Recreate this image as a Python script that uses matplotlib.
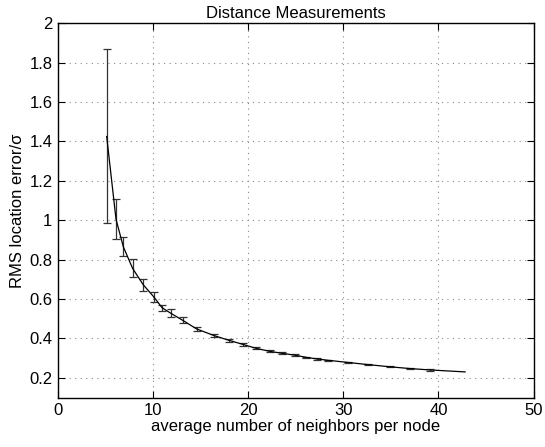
import matplotlib
matplotlib.use("Agg")
import matplotlib.pyplot as plt
import numpy as np

# data
x = [5.12, 6.1, 6.87, 7.85, 8.97, 10.09, 10.94, 11.85, 13.11, 14.58, 16.44, 18.0,
     19.5, 20.8, 22.3, 23.5, 24.9, 26.1, 27.2, 28.4, 30.5, 32.6, 34.9, 37.0, 39.1, 42.8]
y = [1.425, 1.005, 0.865, 0.755, 0.672, 0.61, 0.556, 0.528, 0.492, 0.448, 0.414, 0.39,
     0.369, 0.35, 0.334, 0.325, 0.315, 0.304, 0.296, 0.289, 0.278, 0.267, 0.256, 0.247, 0.24, 0.230]
err_lo = [0.44, 0.10, 0.046, 0.045, 0.029, 0.025, 0.015, 0.021, 0.016, 0.009, 0.007, 0.006,
          0.006, 0.005, 0.005, 0.004, 0.004, 0.004, 0.004, 0.003, 0.003, 0.003, 0.003, 0.003, 0.003, 0.0]
err_hi = [0.443, 0.104, 0.048, 0.048, 0.030, 0.026, 0.016, 0.022, 0.016, 0.009, 0.007, 0.006,
          0.006, 0.005, 0.005, 0.004, 0.004, 0.004, 0.004, 0.003, 0.003, 0.003, 0.003, 0.003, 0.003, 0.0]

xticks = [0, 10, 20, 30, 40, 50]
yticks = [0.2, 0.4, 0.6, 0.8, 1.0, 1.2, 1.4, 1.6, 1.8, 2.0]
ytick_labels = ["0.2", "0.4", "0.6", "0.8", "1", "1.2", "1.4", "1.6", "1.8", "2"]

plt.rcParams['font.family'] = ['Liberation Sans', 'DejaVu Sans']

fig = plt.figure(figsize=(5.45, 4.47), dpi=100)
ax = fig.add_axes([0.1064, 0.1107, 0.979 - 0.1064, 0.948 - 0.1107])

ax.plot(x, y, color='black', lw=0.9, zorder=3)
ax.errorbar(x[:-1], y[:-1], yerr=[err_lo[:-1], err_hi[:-1]], fmt='none',
            ecolor='#333333', elinewidth=0.9, capsize=2.6, capthick=0.9, zorder=2)

ax.set_xlim(0, 50)
ax.set_ylim(0.1, 2.0)
ax.set_xticks(xticks)
ax.set_yticks(yticks)
ax.set_yticklabels(ytick_labels)
ax.grid(True, linestyle=(0, (1, 4)), color='#888888', lw=0.8)
ax.tick_params(direction='in', top=True, right=True, length=5, width=0.8,
               labelsize=12, pad=4)
for s in ax.spines.values():
    s.set_linewidth(1.0)

ax.set_xlabel('average number of neighbors per node', fontsize=12, labelpad=1)
ax.set_ylabel('RMS location error/σ', fontsize=12, labelpad=3)
ax.set_title('Distance Measurements', fontsize=12, pad=4)

fig.savefig('out.png', dpi=100)
